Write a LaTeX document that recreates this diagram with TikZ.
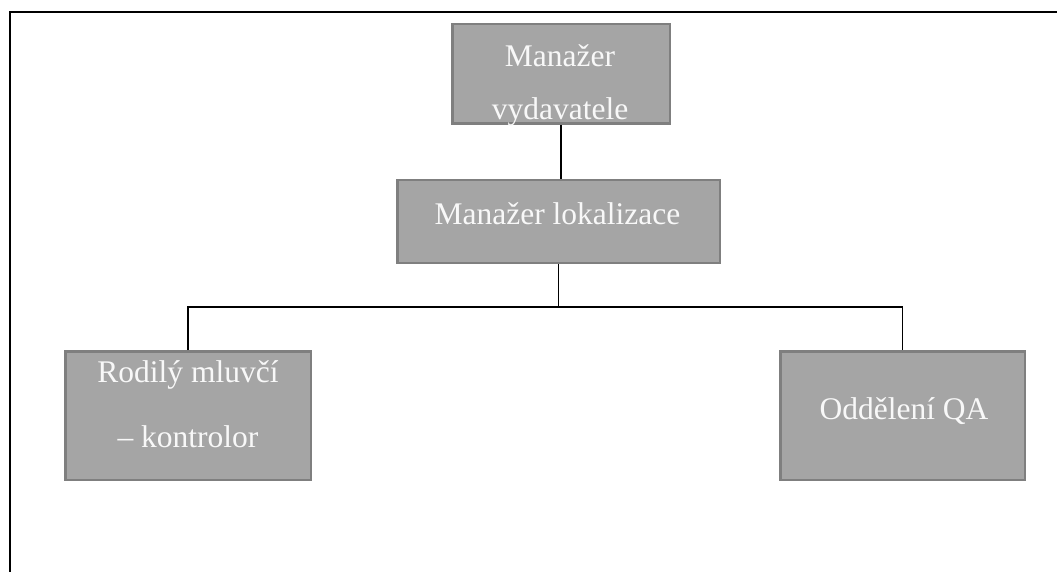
\documentclass[tikz,border=0pt]{standalone}
\usepackage{fontspec}
\setmainfont{Liberation Serif}
\definecolor{boxfill}{HTML}{A5A5A5}
\definecolor{boxline}{HTML}{7F7F7F}
\definecolor{txt}{HTML}{F8F8F8}
\begin{document}
\begin{tikzpicture}[x=1pt,y=-1pt,
  orgbox/.style={draw=boxline,fill=boxfill,line width=2.5pt,inner sep=0pt,rectangle},
  lbl/.style={anchor=base,inner sep=0pt,text=txt,font=\fontsize{31.5}{38}\selectfont},
  conn/.style={draw=black,line width=1.5pt},
  frame/.style={draw=black,line width=2pt}]
\useasboundingbox (0,0) rectangle (1057,572);
\draw[frame] (9.5,572) -- (9.5,12.5) -- (1057,12.5);
% boxes
\node[orgbox,minimum width=217.5pt,minimum height=99.5pt] (top) at (561,74) {};
\node[orgbox,minimum width=322.5pt,minimum height=82.5pt] (mid) at (558.5,221.5) {};
\node[orgbox,minimum width=245.5pt,minimum height=128.5pt] (left) at (188,415.5) {};
\node[orgbox,minimum width=244.5pt,minimum height=128.5pt] (right) at (902.5,415.5) {};
% labels
\node[lbl] (t1) at (560,67) {Manažer};
\node[lbl] (t2) at (560,120) {vydavatele};
\node[lbl] (m1) at (557.5,225) {Manažer lokalizace};
\node[lbl] (l1) at (188,382) {Rodilý mluvčí};
\node[lbl] (l2) at (188,447) {– kontrolor};
\node[lbl] (r1) at (904,419) {Oddělení QA};
% connectors
\coordinate (bar) at (558,307);
\draw[conn] (top.south) -- (top.south |- mid.north);
\draw[conn] (mid.south) -- (mid.south |- bar);
\draw[conn] (left.north) |- (bar) -| (right.north);
\end{tikzpicture}
\end{document}
